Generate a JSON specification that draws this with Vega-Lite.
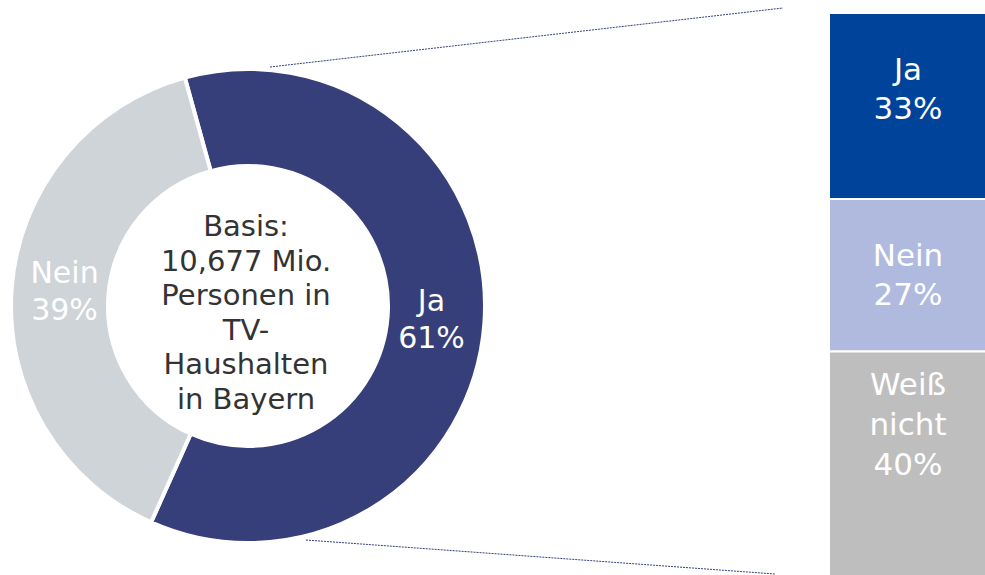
{
  "$schema": "https://vega.github.io/schema/vega-lite/v6.json",
  "width": 985,
  "height": 575,
  "padding": 0,
  "autosize": {"type": "none"},
  "background": "white",
  "config": {"view": {"stroke": null}, "font": "DejaVu Sans"},
  "datasets": {
    "gesamt": [
      {"Antwort": "Ja", "Anteil": 61, "Label": "Ja\n61%"},
      {"Antwort": "Nein", "Anteil": 39, "Label": "Nein\n39%"}
    ],
    "teilgruppe": [
      {"Antwort": "Ja", "Anteil": 33, "Label": "Ja\n33%"},
      {"Antwort": "Nein", "Anteil": 27, "Label": "Nein\n27%"},
      {"Antwort": "Weiß nicht", "Anteil": 40, "Label": "Weiß\nnicht\n40%"}
    ]
  },
  "resolve": {"scale": {"color": "independent"}},
  "layer": [
    {
      "data": {"values": [{}]},
      "mark": {"type": "rule", "color": "#34407e", "strokeWidth": 1, "strokeDash": [2, 1]},
      "encoding": {"x": {"value": 270}, "y": {"value": 67}, "x2": {"value": 783}, "y2": {"value": 8}}
    },
    {
      "data": {"values": [{}]},
      "mark": {"type": "rule", "color": "#34407e", "strokeWidth": 1, "strokeDash": [2, 1]},
      "encoding": {"x": {"value": 306}, "y": {"value": 540}, "x2": {"value": 775}, "y2": {"value": 574}}
    },
    {
      "data": {"name": "gesamt"},
      "mark": {"type": "arc", "x": 248, "y": 306, "innerRadius": 140, "outerRadius": 237, "stroke": "white", "strokeWidth": 4},
      "encoding": {
        "theta": {"field": "Anteil", "type": "quantitative", "stack": true, "scale": {"range": [-0.27, 6.0132]}},
        "color": {"field": "Antwort", "type": "nominal", "scale": {"domain": ["Ja", "Nein"], "range": ["#363f7a", "#cfd4d9"]}, "legend": null}
      }
    },
    {
      "data": {"name": "gesamt"},
      "mark": {"type": "text", "x": 248, "y": 306, "radius": 184, "fontSize": 30, "lineHeight": 37, "lineBreak": "\n", "color": "white", "align": "center", "baseline": "middle", "dy": -18},
      "encoding": {
        "theta": {"field": "Anteil", "type": "quantitative", "stack": true},
        "text": {"field": "Label"}
      }
    },
    {
      "data": {"values": [{}]},
      "mark": {"type": "text", "x": 246, "y": 227, "fontSize": 29, "lineHeight": 34.5, "color": "#333333", "align": "center", "baseline": "middle"},
      "encoding": {"text": {"value": ["Basis:", "10,677 Mio.", "Personen in", "TV-", "Haushalten", "in Bayern"]}}
    },
    {
      "data": {"name": "teilgruppe"},
      "mark": {"type": "bar", "stroke": "white", "strokeWidth": 2},
      "encoding": {
        "x": {"datum": "Teilgruppe", "type": "nominal", "scale": {"range": [829, 987], "paddingInner": 0, "paddingOuter": 0}, "axis": null},
        "y": {"field": "Anteil", "type": "quantitative", "stack": "zero", "scale": {"domain": [0, 100], "range": [577, 13]}, "axis": null},
        "color": {"field": "Antwort", "type": "nominal", "scale": {"domain": ["Ja", "Nein", "Weiß nicht"], "range": ["#00439a", "#b0b9de", "#bebebe"]}, "legend": null}
      }
    },
    {
      "data": {"name": "teilgruppe"},
      "transform": [
        {"stack": "Anteil", "groupby": [], "as": ["y0", "y1"], "sort": [{"field": "Antwort", "order": "descending"}]},
        {"filter": "datum.Antwort != 'Weiß nicht'"}
      ],
      "mark": {"type": "text", "fontSize": 31, "lineHeight": 39, "lineBreak": "\n", "color": "white", "align": "center", "baseline": "middle", "dy": 58},
      "encoding": {
        "x": {"datum": "Teilgruppe", "type": "nominal"},
        "y": {"field": "y1", "type": "quantitative"},
        "text": {"field": "Label"}
      }
    },
    {
      "data": {"name": "teilgruppe"},
      "transform": [
        {"stack": "Anteil", "groupby": [], "as": ["y0", "y1"], "sort": [{"field": "Antwort", "order": "descending"}]},
        {"filter": "datum.Antwort == 'Weiß nicht'"}
      ],
      "mark": {"type": "text", "fontSize": 31, "lineHeight": 40, "lineBreak": "\n", "color": "white", "align": "center", "baseline": "middle", "dy": 35},
      "encoding": {
        "x": {"datum": "Teilgruppe", "type": "nominal"},
        "y": {"field": "y1", "type": "quantitative"},
        "text": {"field": "Label"}
      }
    }
  ]
}
